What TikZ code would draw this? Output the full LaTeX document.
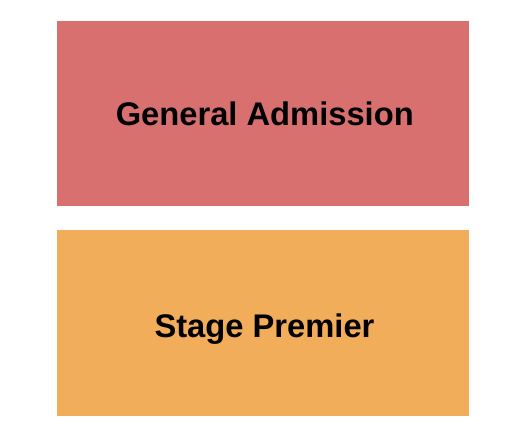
\documentclass[tikz,border=0pt]{standalone}
\usepackage{fontspec}
\setmainfont{Liberation Sans}
\definecolor{garea}{HTML}{D87070}
\definecolor{sarea}{HTML}{F2AD5A}
\begin{document}
\begin{tikzpicture}[x=1pt,y=-1pt,
  sect/.style={inner sep=0pt,outer sep=0pt,anchor=base,font=\bfseries\fontsize{32.7}{36}\selectfont,text=black}]
\useasboundingbox (0,0) rectangle (525,444);
\fill[garea] (57,21) rectangle (469,206);
\fill[sarea] (57,230) rectangle (469,416);
\node[sect] (ga) at (264.8,125) {General Admission};
\node[sect] (sp) at (264.5,337) {Stage Premier};
\end{tikzpicture}
\end{document}
